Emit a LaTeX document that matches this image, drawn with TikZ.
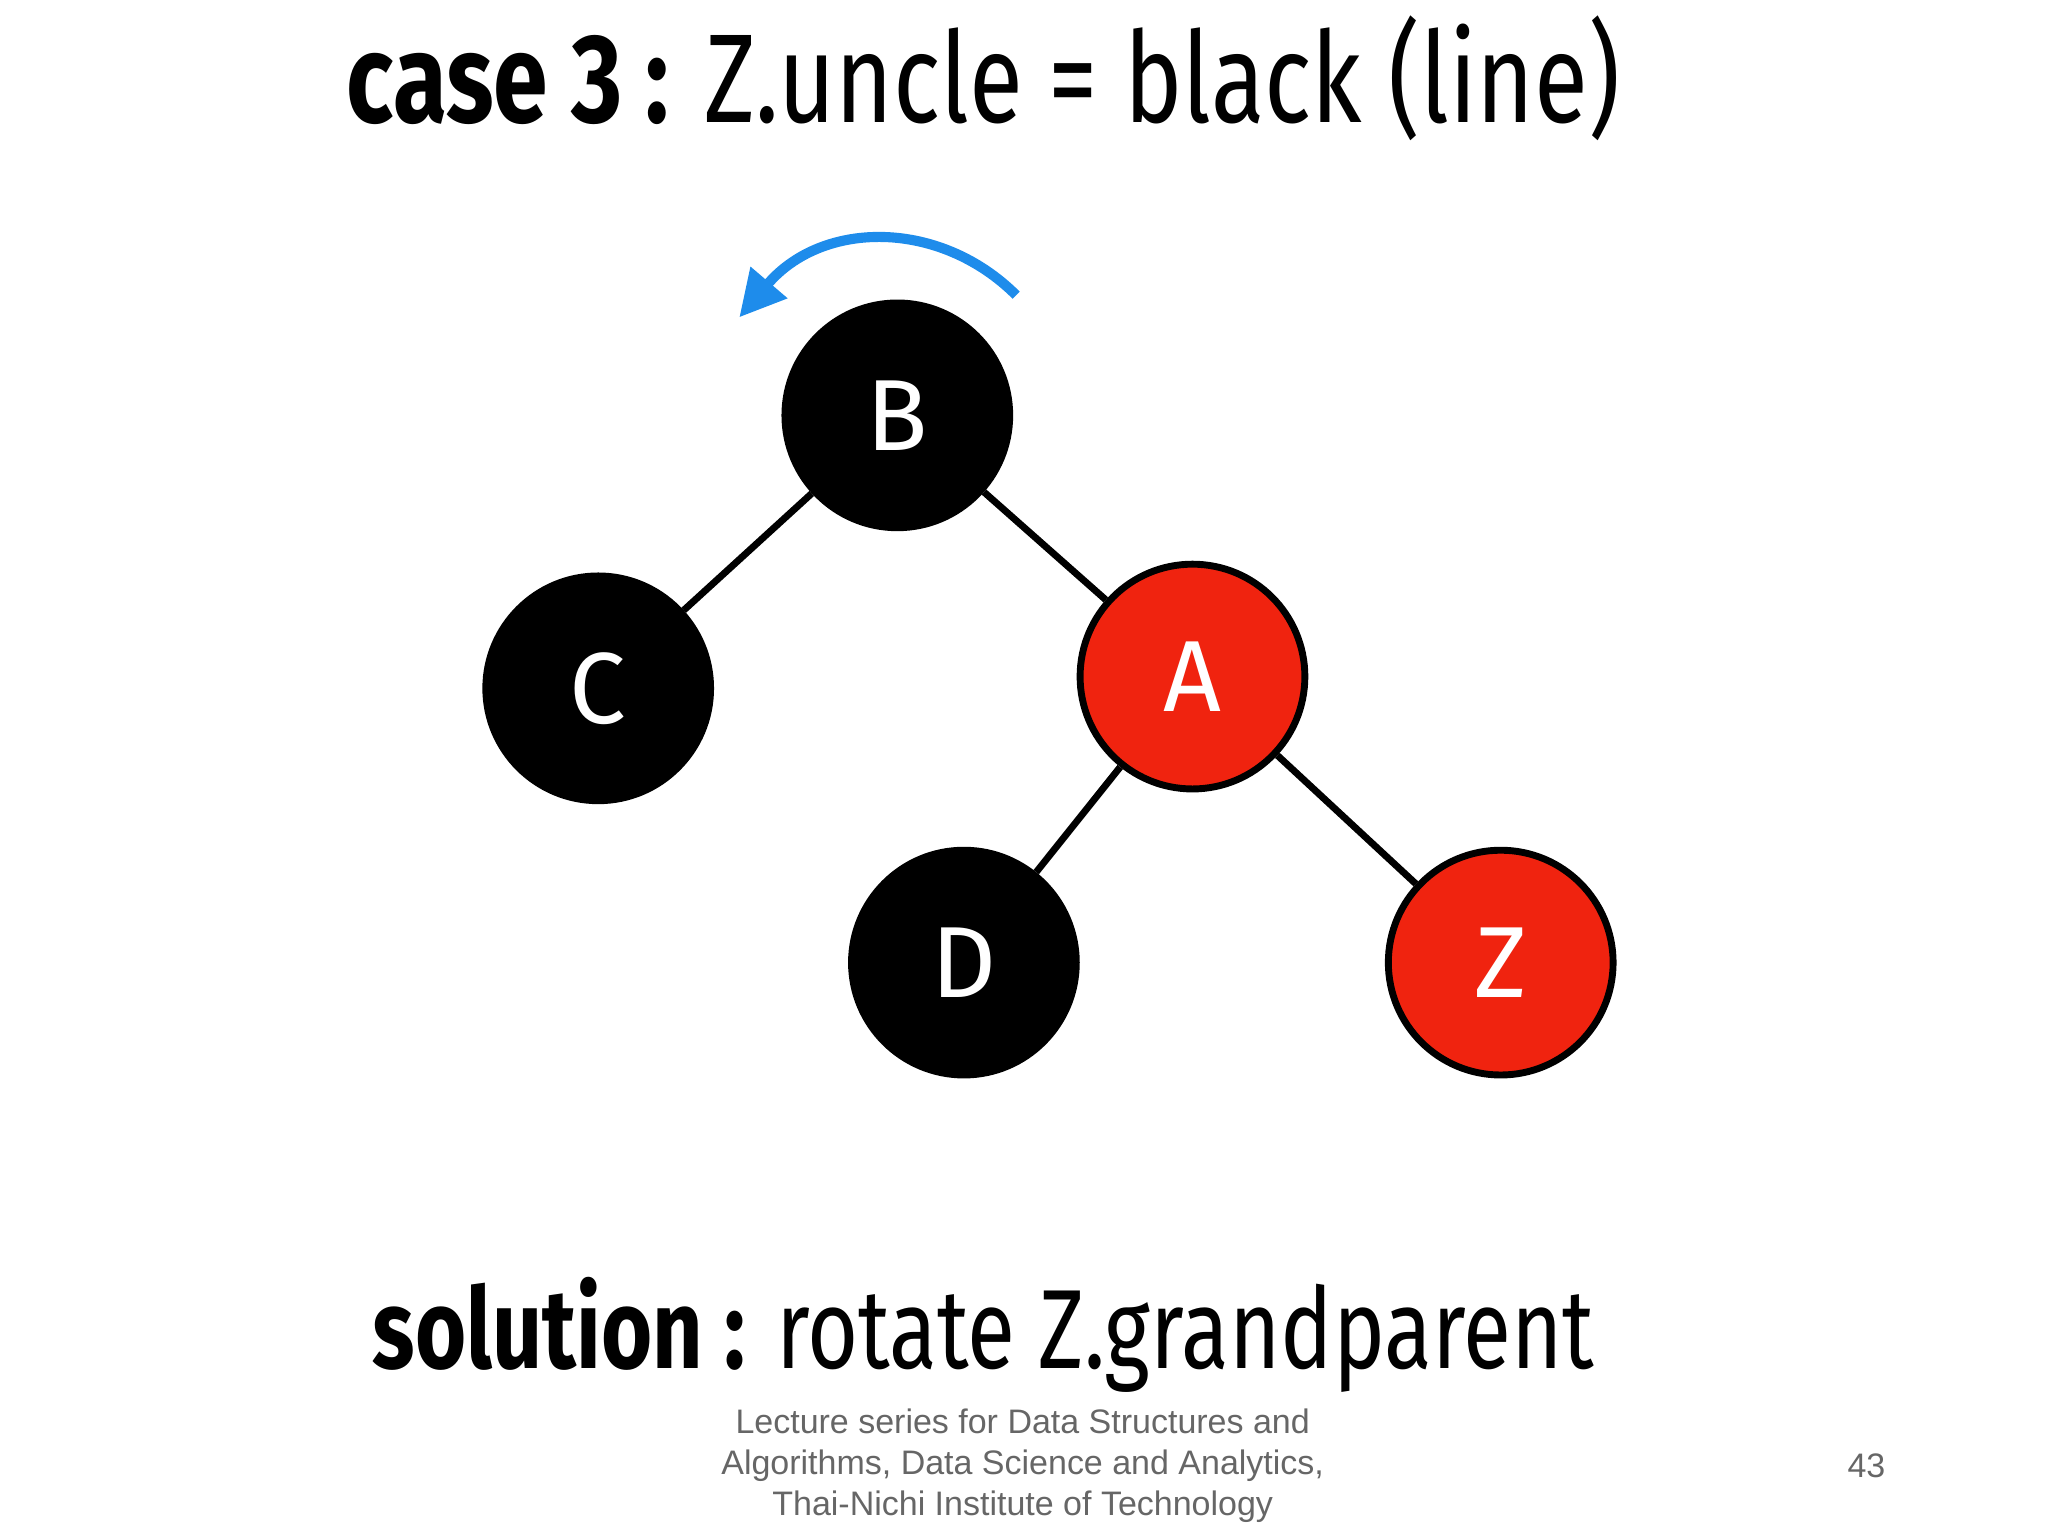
\documentclass[tikz,border=0pt]{standalone}
\usepackage{fontspec}
\setmainfont{Fira Sans}[FakeStretch=0.78]
\newfontfamily\footfont{Liberation Sans}
\newfontfamily\letterfont{Fira Sans}
\usetikzlibrary{arrows.meta}
\definecolor{nodered}{RGB}{240,35,15}
\definecolor{arcblue}{RGB}{30,140,235}
\begin{document}
\begin{tikzpicture}[x=0.01cm,y=-0.01cm,
  blk/.style={circle,fill=black,draw=black,line width=1.5pt,minimum size=1.72cm,inner sep=0pt,text=white,font=\letterfont\fontsize{22}{22}\selectfont},
  red/.style={blk,fill=nodered}]
\useasboundingbox (0,0) rectangle (1568,1176);
\node(B) [blk] at (687,318) {B};
\node(C) [blk] at (458,527) {C};
\node(A) [red] at (913,518) {A};
\node(D) [blk] at (738,737) {D};
\node(Z) [red] at (1149,737) {Z};
\draw[line width=1.5pt] (B) -- (C);
\draw[line width=1.5pt] (B) -- (A);
\draw[line width=1.5pt] (A) -- (D);
\draw[line width=1.5pt] (A) -- (Z);
\coordinate(s) at (778,226);
\coordinate(e) at (566,243);
\draw[arcblue,line width=2.2pt,-{Triangle[length=10pt,width=10pt]}] (s) .. controls (720,168) and (630,168) .. (e);
\node(title) at (753,60) {\fontsize{27.5}{27.5}\selectfont\textbf{case 3 :} Z.uncle = black (line)};
\node(sol) at (753,1022) {\fontsize{24.5}{24.5}\selectfont\textbf{solution :} rotate Z.grandparent};
\node(foot) [align=center,text=black!60,font=\footfont\fontsize{7.4}{8.9}\selectfont] at (783,1122)
  {Lecture series for Data Structures and\\Algorithms, Data Science and Analytics,\\Thai-Nichi Institute of Technology};
\node(page) [text=black!60,font=\footfont\fontsize{7.4}{8.9}\selectfont] at (1429,1122) {43};
\end{tikzpicture}
\end{document}
